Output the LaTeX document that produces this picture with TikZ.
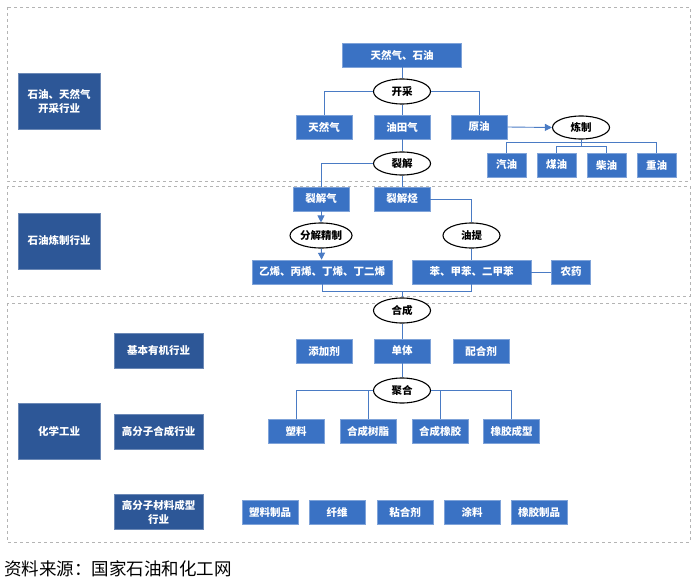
\documentclass[tikz,border=0pt]{standalone}
\usepackage{fontspec}
\setmainfont{Noto Sans CJK SC}
\usetikzlibrary{shapes.geometric,arrows.meta}
\definecolor{boxblue}{HTML}{3A72C4}
\definecolor{darkblue}{HTML}{2D5797}
\definecolor{lineblue}{HTML}{4A7BC4}
\definecolor{dashgray}{HTML}{B4B4B4}
\begin{document}
\begin{tikzpicture}[x=1pt,y=-1pt,
  bx/.style={rectangle,fill=boxblue,draw=boxblue!65!white,line width=0.6pt,text=white,
    font=\bfseries\fontsize{10.5}{12}\selectfont,inner sep=0pt,minimum height=24pt,minimum width=56pt},
  lb/.style={rectangle,fill=darkblue,draw=darkblue!70!white,line width=0.6pt,text=white,align=center,
    font=\bfseries\fontsize{10.5}{14}\selectfont,inner sep=0pt,minimum width=82pt,minimum height=56pt},
  mb/.style={lb,minimum width=89pt,minimum height=35pt},
  op/.style={ellipse,draw=black,line width=1.1pt,fill=white,text=black,
    font=\bfseries\fontsize{10.5}{12}\selectfont,inner sep=0pt,minimum width=57pt,minimum height=25pt},
  ln/.style={draw=lineblue,line width=0.9pt},
  arr/.style={ln,-{Triangle[length=7pt,width=7pt]}},
  zone/.style={draw=dashgray,dashed,line width=0.7pt}]
\useasboundingbox (0,0) rectangle (700,580);
% zones
\draw[zone] (7,7) rectangle (690,181);
\draw[zone] (7,186) rectangle (690,296);
\draw[zone] (7,303) rectangle (690,542);
% left labels
\node[lb] (l1) at (59,101) {石油、天然气\\开采行业};
\node[lb] (l2) at (59,241) {石油炼制行业};
\node[lb] (l3) at (59,431) {化学工业};
\node[mb] (m1) at (158.5,350.5) {基本有机行业};
\node[mb] (m2) at (158.5,431.5) {高分子合成行业};
\node[mb] (m3) at (158.5,512) {高分子材料成型\\行业};
% top section
\node[bx,minimum width=119pt] (top) at (402,55) {天然气、石油};
\node[op] (kc) at (402,91.5) {开采};
\node[bx] (tr) at (324,127) {天然气};
\node[bx] (ytq) at (402,127) {油田气};
\node[bx] (yy) at (479,127) {原油};
\node[op,minimum height=23pt] (lz) at (581,127.5) {炼制};
\node[bx,minimum width=39pt] (qy) at (506.5,165) {汽油};
\node[bx,minimum width=39pt] (my) at (556.5,165) {煤油};
\node[bx,minimum width=39pt] (cy) at (606.5,165) {柴油};
\node[bx,minimum width=39pt] (zy) at (656.5,165) {重油};
\node[op,minimum height=23pt] (lj) at (402,163.5) {裂解};
\coordinate (lzo) at (581,142);
\coordinate (lzb) at (581,146);
% refining section
\node[bx] (ljq) at (321,199) {裂解气};
\node[bx] (ljt) at (402,199) {裂解烃};
\node[op,minimum width=62pt] (fj) at (321,235.5) {分解精制};
\node[op] (yt) at (471.5,235.5) {油提};
\node[bx,minimum width=140pt] (xi) at (322,272) {乙烯、丙烯、丁烯、丁二烯};
\node[bx,minimum width=119pt] (ben) at (471.5,272) {苯、甲苯、二甲苯};
\node[bx,minimum width=39pt] (ny) at (571,272) {农药};
\coordinate (mg) at (402,291);
% chemical section
\node[op] (hc) at (402,310.5) {合成};
\node[bx] (tjj) at (324,351) {添加剂};
\node[bx] (dt) at (402,351) {单体};
\node[bx] (phj) at (481,351) {配合剂};
\node[op] (jh) at (402,390.5) {聚合};
\node[bx] (sl) at (296,431) {塑料};
\node[bx] (hcsz) at (368,431) {合成树脂};
\node[bx] (hcxj) at (440,431) {合成橡胶};
\node[bx] (xjcx) at (511.5,431) {橡胶成型};
\node[bx] (slzp) at (270,512) {塑料制品};
\node[bx] (xw) at (337,512) {纤维};
\node[bx] (nhj) at (405,512) {粘合剂};
\node[bx] (tl) at (472,512) {涂料};
\node[bx] (xjzp) at (539,512) {橡胶制品};
% connectors
\draw[ln] (top) -- (kc);
\draw[ln] (kc.west) -| (tr.north);
\draw[ln] (kc.east) -| (yy.north);
\draw[ln] (kc) -- (ytq);
\draw[arr] (yy.east) -- (lz.west);
\draw[ln] (qy.north) -- (qy.north |- lzo) -- (zy.north |- lzo) -- (zy.north);
\draw[ln] (my.north) -- (my.north |- lzb) -- (cy.north |- lzb) -- (cy.north);
\draw[ln] (lz.south) -- (lzb);
\draw[ln] (ytq) -- (lj);
\draw[ln] (lj.west) -| (ljq.north);
\draw[ln] (lj) -- (ljt);
\draw[arr] (ljq) -- (fj);
\draw[arr] (fj) -- (xi);
\draw[ln] (ljt.east) -| (yt.north);
\draw[ln] (yt) -- (ben);
\draw[ln] (ben) -- (ny);
\draw[ln] (xi.south) -- (xi.south |- mg) -- (ben.south |- mg) -- (ben.south);
\draw[ln] (mg) -- (hc);
\draw[ln] (hc) -- (dt);
\draw[ln] (dt) -- (jh);
\draw[ln] (jh.west) -| (sl.north);
\draw[ln] (jh.east) -| (xjcx.north);
\draw[ln] (hcsz.north) -- (hcsz.north |- jh.west);
\draw[ln] (hcxj.north) -- (hcxj.north |- jh.east);
% footer
\node[anchor=west,inner sep=0pt,font=\fontsize{17.5}{20}\selectfont] (src) at (4,569) {资料来源：国家石油和化工网};
\end{tikzpicture}
\end{document}
